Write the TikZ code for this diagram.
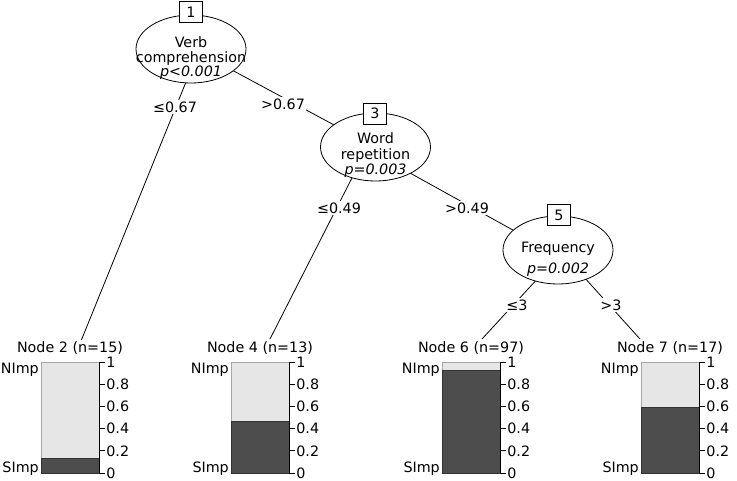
\documentclass[tikz,border=0pt]{standalone}
\usepackage{fontspec}
\setmainfont{DejaVu Sans}
\usetikzlibrary{shapes.geometric}
\definecolor{darkbar}{HTML}{4D4D4D}
\definecolor{lightbar}{HTML}{E6E6E6}
\newcommand{\termpanel}[3]{%
  \pgfmathsetmacro\tpxr{#2+58}%
  \pgfmathsetmacro\tpyd{473-111*#3}%
  \draw[barlight] (#2,362) rectangle (\tpxr,473);
  \draw[bardark] (#2,\tpyd) rectangle (\tpxr,473);
  \draw[axisline] (\tpxr,362) -- (\tpxr,473);
  \foreach \v [count=\i] in {0,0.2,0.4,0.6,0.8,1} {
    \draw[axisline] (\tpxr,473-111*\v) -- ++(6,0) node[ticklab] (#1t\i) {\v};
  }
  \node[catlab, anchor=base east] (#1ni) at (#2-2,373) {NImp};
  \node[catlab, anchor=base east] (#1si) at (#2-2,472) {SImp};
}
\begin{document}
\begin{tikzpicture}[x=1pt,y=-1pt,font=\fontsize{14.3}{16}\selectfont,
  inner/.style={ellipse, draw, fill=white, line width=0.8pt, minimum width=110pt, minimum height=68pt, inner sep=0pt},
  idbox/.style={draw, fill=white, line width=0.8pt, minimum width=23pt, minimum height=21pt, inner sep=0pt},
  elabel/.style={fill=white, inner sep=1.5pt},
  ntext/.style={anchor=base, inner sep=0pt},
  nlabel/.style={anchor=base, fill=white, inner sep=1.5pt},
  catlab/.style={inner sep=0pt},
  ticklab/.style={anchor=west, inner sep=0pt, xshift=1pt},
  edgeline/.style={line width=0.8pt},
  axisline/.style={line width=0.8pt},
  barlight/.style={fill=lightbar, draw=gray!70, line width=0.8pt},
  bardark/.style={fill=darkbar, draw=black!80, line width=0.8pt}]
\useasboundingbox (0,0) rectangle (737,480);
% terminal panels
\termpanel{n2}{41}{0.1333}
\termpanel{n4}{231}{0.4615}
\termpanel{n6}{442}{0.9278}
\termpanel{n7}{641}{0.5882}
% edge end points
\coordinate (a12) at (186,82);
\coordinate (b12) at (81,341);
\coordinate (a34) at (355,172);
\coordinate (b34) at (270,339);
\coordinate (a35) at (410,173);
\coordinate (b35) at (520,234);
\coordinate (a56) at (540,276);
\coordinate (b56) at (482,339);
\coordinate (a57) at (583,276);
\coordinate (b57) at (640,339);
\coordinate (a13) at (191,48);
\coordinate (b13) at (375,147);
% edges
\draw[edgeline] (a12) -- (b12);
\draw[edgeline] (a13) -- (b13);
\draw[edgeline] (a34) -- (b34);
\draw[edgeline] (a35) -- (b35);
\draw[edgeline] (a56) -- (b56);
\draw[edgeline] (a57) -- (b57);
% terminal labels
\node[nlabel] (n2lab) at (70,352) {Node 2 (n=15)};
\node[nlabel] (n4lab) at (260,352) {Node 4 (n=13)};
\node[nlabel] (n6lab) at (471,352) {Node 6 (n=97)};
\node[nlabel] (n7lab) at (670,352) {Node 7 (n=17)};
% edge labels
\node[elabel] (l12) at (175,107) {≤0.67};
\node[elabel] (l13) at (283,104) {>0.67};
\node[elabel] (l34) at (339,208) {≤0.49};
\node[elabel] (l35) at (467,208) {>0.49};
\node[elabel] (l56) at (517,305) {≤3};
\node[elabel] (l57) at (611,305) {>3};
% inner nodes
\node[inner] (n1) at (191,49) {};
\node[ntext] (n1a) at (191,47) {Verb};
\node[ntext] (n1b) at (191,62) {comprehension};
\node[ntext] (n1c) at (191,76.5) {\itshape p<0.001};
\node[idbox] (n1id) at (191,12) {1};
\node[inner] (n3) at (375.5,147) {};
\node[ntext] (n3a) at (375.5,143) {Word};
\node[ntext] (n3b) at (375.5,159) {repetition};
\node[ntext] (n3c) at (375.5,174.5) {\itshape p=0.003};
\node[idbox] (n3id) at (375,113.5) {3};
\node[inner] (n5) at (558,250) {};
\node[ntext] (n5a) at (558,252) {Frequency};
\node[ntext] (n5b) at (558,273) {\itshape p=0.002};
\node[idbox] (n5id) at (559,215) {5};
\end{tikzpicture}
\end{document}
